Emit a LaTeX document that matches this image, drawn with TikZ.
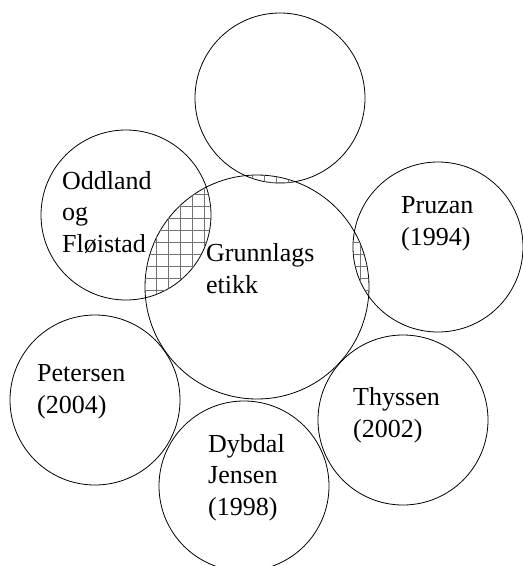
\documentclass[tikz,border=0pt]{standalone}
\usepackage{fontspec}
\setmainfont{Liberation Serif}
\usetikzlibrary{patterns.meta}

\begin{document}
\begin{tikzpicture}[x=1pt,y=-1pt,
    ring/.style={circle,draw,line width=0.8pt,inner sep=0pt,minimum size=170pt},
    ringtext/.style={align=left,anchor=base west,inner sep=0pt,font=\fontsize{26}{31.5}\selectfont},
    hatch/.style={pattern={Lines[distance=12pt,angle=#1,line width=0.7pt]},pattern color=black!55}]
    \useasboundingbox (0,0) rectangle (523,566);
    \begin{scope}[every node/.style=ring]
    \node (top) at (280,98) {};
    \node (oddland) at (126,215) {};
    \node (grunn) at (257,287) [minimum size=224pt] {};
    \node (pruzan) at (438,247) {};
    \node (petersen) at (95,400) {};
    \node (thyssen) at (403,420) {};
    \node (dybdal) at (244,486) {};
    \end{scope}
    % overlaps with the middle circle
    \begin{scope}
    \clip (grunn) circle[radius=112pt];
    \foreach \n in {top,oddland,pruzan} {
        \fill[hatch=0] (\n) circle[radius=85pt];
        \fill[hatch=90] (\n) circle[radius=85pt];
    }
    \end{scope}
    % anchor is the baseline of the last line
    \begin{scope}[every node/.style=ringtext]
    \node (t-oddland) at (62,252) {Oddland\\og\\Fløistad};
    \node (t-grunn) at (206,293) {Grunnlags\\etikk};
    \node (t-pruzan) at (401,245) {Pruzan\\(1994)};
    \node (t-petersen) at (37,413) {Petersen\\(2004)};
    \node (t-thyssen) at (353,437) {Thyssen\\(2002)};
    \node (t-dybdal) at (208,515) {Dybdal\\Jensen\\(1998)};
    \end{scope}
\end{tikzpicture}
\end{document}
